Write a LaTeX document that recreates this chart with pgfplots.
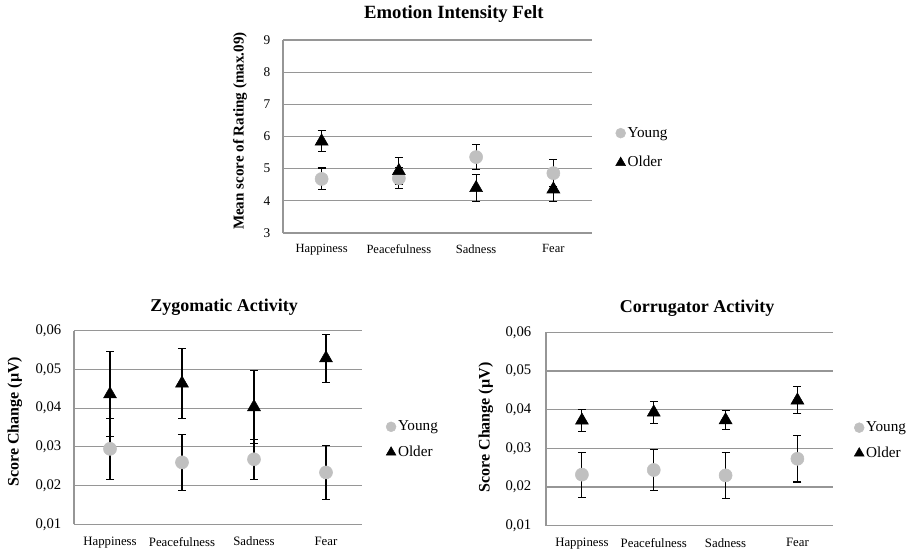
\documentclass[border=0pt]{standalone}
\usepackage{fontspec}
\setmainfont{Liberation Serif}
\usepackage{pgfplots}
\pgfplotsset{compat=1.18}
\definecolor{younggray}{RGB}{192,192,192}
\definecolor{gridgray}{RGB}{150,150,150}

\pgfplotsset{
  emostyle/.style={
    scale only axis,
    anchor=south west,
    xmin=-0.5, xmax=3.5,
    xtick={0,1,2,3},
    xticklabels={Happiness,Peacefulness,Sadness,Fear},
    axis lines=left,
    axis line style={-, gridgray, line width=0.8pt},
    ymajorgrids,
    grid style={gridgray, line width=0.8pt},
    major tick length=0pt,
    /pgf/number format/assume math mode=true,
    clip=false,
    legend cell align=left,
    legend style={draw=none, fill=none, anchor=west, inner sep=0pt,
      font=\fontsize{11.4}{13}\selectfont,
      nodes={inner xsep=1.5pt, inner ysep=1pt}},
  },
  commaticks/.style={
    scaled y ticks=false,
    yticklabel style={/pgf/number format/fixed, /pgf/number format/fixed zerofill,
      /pgf/number format/precision=2, /pgf/number format/use comma},
  },
  young/.style={only marks, mark=*, mark size=4.9pt, color=younggray,
    mark options={draw=younggray, fill=younggray},
    legend image code/.code={\draw[##1, mark size=3.7pt] plot coordinates {(0cm,0cm)};},
    error bars/.cd, y dir=both, y explicit,
    error bar style={black, line width=0.8pt},
    error mark options={rotate=90, black, mark size=3pt, line width=0.8pt}},
  older/.style={only marks, mark=triangle*, mark size=5.6pt, color=black,
    mark options={draw=black, fill=black},
    legend image code/.code={\draw[##1, mark size=4.2pt] plot coordinates {(0cm,0cm)};},
    error bars/.cd, y dir=both, y explicit,
    error bar style={black, line width=0.8pt},
    error mark options={rotate=90, black, mark size=3pt, line width=0.8pt}},
}

\begin{document}
\begin{tikzpicture}

% ---------- Top: Emotion Intensity Felt ----------
\begin{axis}[emostyle,
  at={(212.25pt,238.5pt)}, width=231.75pt, height=144.75pt,
  ymin=3, ymax=9, ytick={3,4,5,6,7,8,9},
  yticklabel style={font=\fontsize{10}{12}\selectfont, xshift=-6pt},
  xticklabel style={font=\fontsize{9.4}{11}\selectfont, yshift=-5pt},
  title={Emotion Intensity Felt},
  title style={at={(axis description cs:0.553,1.093)}, anchor=center, font=\bfseries\fontsize{14}{16}\selectfont},
  ylabel={Mean score of Rating (max.09)},
  ylabel style={at={(axis description cs:-0.139,0.528)}, anchor=center, font=\bfseries\fontsize{11.3}{13}\selectfont},
  legend style={at={(axis description cs:1.076,0.44)}, row sep=11pt},
]
\addplot+[young] coordinates {
  (0,4.68) +- (0,0.34)
  (1,4.70) +- (0,0.33)
  (2,5.36) +- (0,0.40)
  (3,4.86) +- (0,0.42)
};
\addlegendentry{Young}
\addplot+[older] coordinates {
  (0,5.85) +- (0,0.33)
  (1,4.93) +- (0,0.42)
  (2,4.40) +- (0,0.41)
  (3,4.36) +- (0,0.38)
};
\addlegendentry{Older}
\end{axis}

% ---------- Bottom left: Zygomatic Activity ----------
\begin{axis}[emostyle, commaticks,
  at={(55.5pt,20.0pt)}, width=216pt, height=145.2pt,
  ymin=0.01, ymax=0.06, ytick={0.01,0.02,0.03,0.04,0.05,0.06},
  yticklabel style={font=\fontsize{11}{13}\selectfont, xshift=-6pt},
  xticklabel style={font=\fontsize{9.6}{11}\selectfont, yshift=-6pt},
  title={Zygomatic Activity},
  title style={at={(axis description cs:0.521,1.081)}, anchor=center, font=\bfseries\fontsize{13.5}{16}\selectfont},
  ylabel={Score Change (µV)},
  ylabel style={at={(axis description cs:-0.205,0.53)}, anchor=center, font=\bfseries\fontsize{12}{14}\selectfont},
  legend style={at={(axis description cs:1.083,0.437)}, row sep=8pt},
]
\addplot+[young] coordinates {
  (0,0.0295) +- (0,0.0079)
  (1,0.0260) +- (0,0.0072)
  (2,0.0268) +- (0,0.0052)
  (3,0.0234) +- (0,0.0069)
};
\addlegendentry{Young}
\addplot+[older] coordinates {
  (0,0.0436) +- (0,0.0110)
  (1,0.0464) +- (0,0.0090)
  (2,0.0403) +- (0,0.0094)
  (3,0.0529) +- (0,0.0062)
};
\addlegendentry{Older}
\end{axis}

% ---------- Bottom right: Corrugator Activity ----------
\begin{axis}[emostyle, commaticks,
  at={(409.5pt,19.0pt)}, width=215.5pt, height=145pt,
  ymin=0.01, ymax=0.06, ytick={0.01,0.02,0.03,0.04,0.05,0.06},
  yticklabel style={font=\fontsize{11}{13}\selectfont, xshift=-7.5pt},
  xticklabel style={font=\fontsize{9.6}{11}\selectfont, yshift=-6pt},
  title={Corrugator Activity},
  title style={at={(axis description cs:0.526,1.082)}, anchor=center, font=\bfseries\fontsize{13.5}{16}\selectfont},
  ylabel={Score Change (µV)},
  ylabel style={at={(axis description cs:-0.209,0.508)}, anchor=center, font=\bfseries\fontsize{12}{14}\selectfont},
  legend style={at={(axis description cs:1.072,0.44)}, row sep=8pt},
]
\addplot+[young] coordinates {
  (0,0.0232) +- (0,0.0058)
  (1,0.0244) +- (0,0.0053)
  (2,0.0230) +- (0,0.0060)
  (3,0.0273) +- (0,0.0060)
};
\addlegendentry{Young}
\addplot+[older] coordinates {
  (0,0.0372) +- (0,0.0029)
  (1,0.0393) +- (0,0.0028)
  (2,0.0373) +- (0,0.0024)
  (3,0.0424) +- (0,0.0035)
};
\addlegendentry{Older}
\end{axis}

\pgfresetboundingbox
\path[use as bounding box] (0,0) rectangle (685.5pt,413.25pt);
\end{tikzpicture}
\end{document}
